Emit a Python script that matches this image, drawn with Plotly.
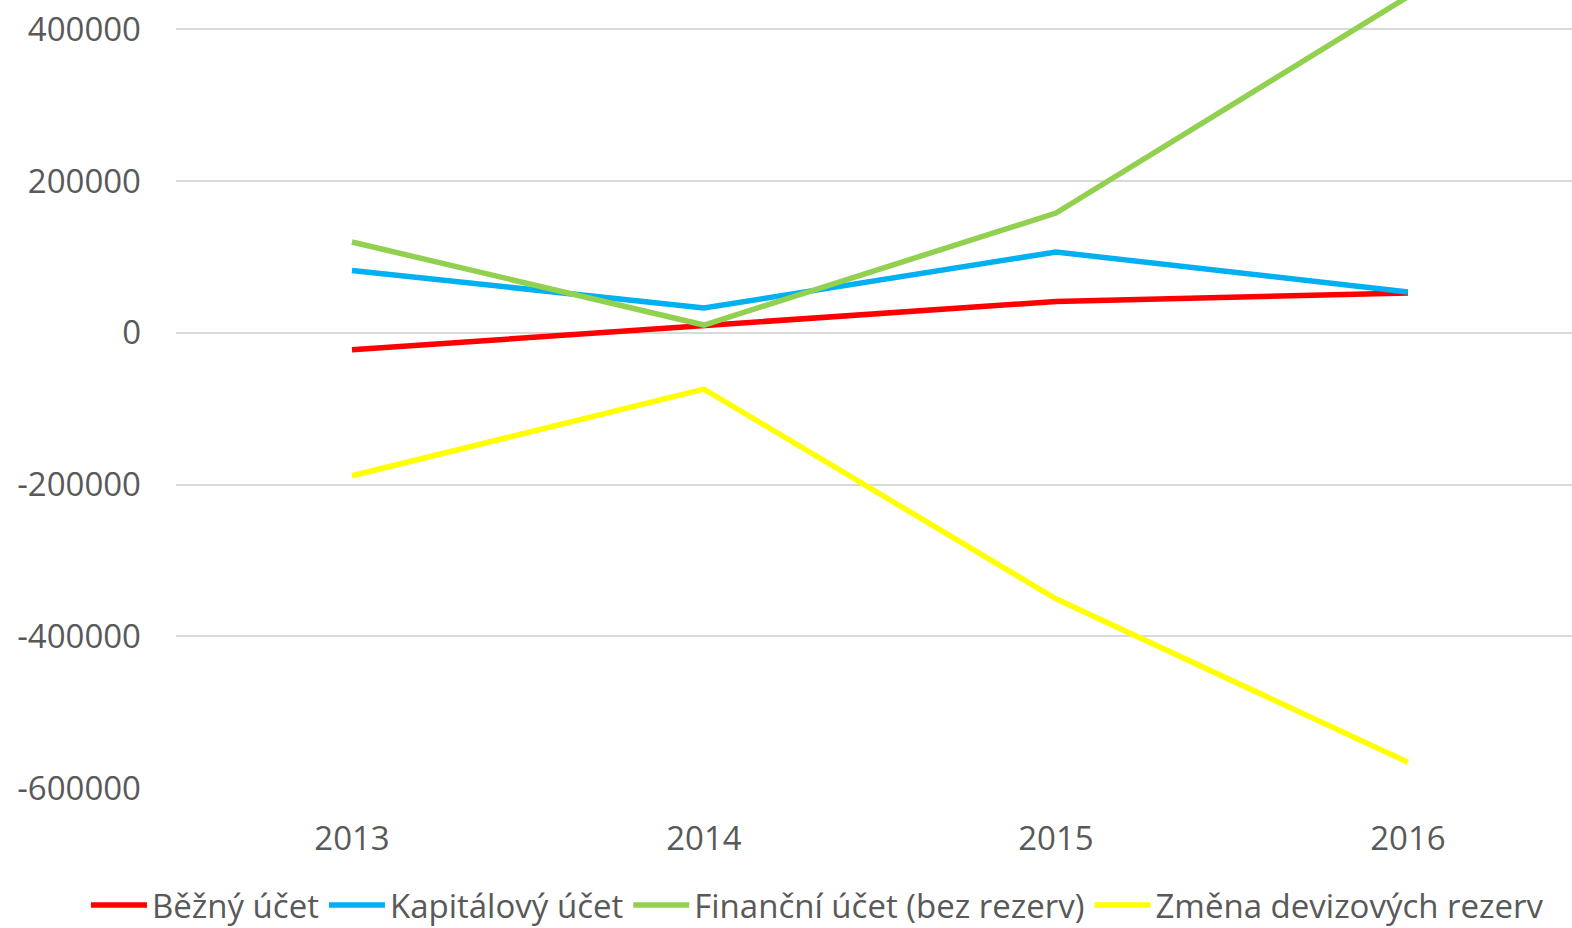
import plotly.graph_objects as go

years = ["2013", "2014", "2015", "2016"]
bezny_ucet = [-22400, 9200, 41300, 52300]
kapitalovy_ucet = [82100, 32600, 106400, 53700]
financni_ucet = [119600, 10200, 157800, 443000]
zmena_rezerv = [-188500, -74200, -350700, -566000]

series = [
    ("Běžný účet", bezny_ucet, "#FF0000"),
    ("Kapitálový účet", kapitalovy_ucet, "#00B0F0"),
    ("Finanční účet (bez rezerv)", financni_ucet, "#92D050"),
    ("Změna devizových rezerv", zmena_rezerv, "#FFFF00"),
]

fig = go.Figure()
for name, vals, color in series:
    fig.add_trace(go.Scatter(x=years, y=vals, name=name, mode="lines",
                             line=dict(color=color, width=5.5)))

font = "Open Sans"
fig.update_layout(
    width=1572, height=928,
    margin=dict(l=176, r=0, t=0, b=140, autoexpand=False),
    paper_bgcolor="white", plot_bgcolor="white",
    font=dict(family=font, size=33, color="#595959"),
    showlegend=True,
    legend=dict(orientation="h",
                x=-0.0645, xanchor="left", y=-0.1485, yanchor="middle",
                font=dict(size=33, color="#595959"), itemwidth=56,
                tracegroupgap=0),
    xaxis=dict(type="category", range=[-0.5, 3.466], showgrid=False, automargin=False,
               showline=False, ticks="", ticklabelstandoff=28, tickfont=dict(size=33)),
    yaxis=dict(range=[-600000, 438600], tickvals=[-600000, -400000, -200000, 0, 200000, 400000],
               ticktext=["-600000", "-400000", "-200000", "0", "200000", "400000"],
               showgrid=True, gridcolor="#D9D9D9", gridwidth=1.5, zeroline=False, automargin=False,
               showline=False, ticks="", ticklabelstandoff=34, tickfont=dict(size=33)),
)
fig.write_html("out.html", config={"displayModeBar": False},
               post_script="document.body.style.margin='0';document.body.style.overflow='hidden';")
